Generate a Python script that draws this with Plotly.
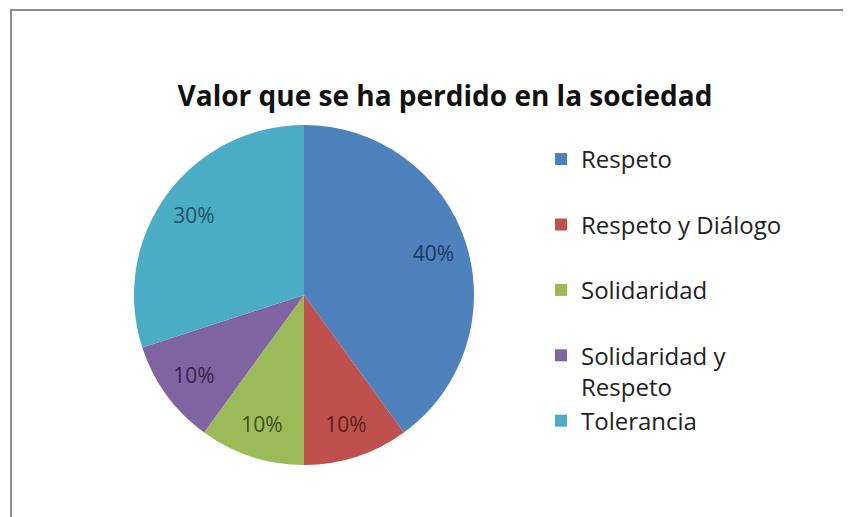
import plotly.graph_objects as go

W, H = 851, 517
OFF = 8  # page body margin offset in the browser

categories = ["Respeto", "Respeto y Diálogo", "Solidaridad", "Solidaridad y Respeto", "Tolerancia"]
values = [40, 10, 10, 10, 30]
slice_colors = ["#4F81BD", "#C0504D", "#9BBB59", "#8064A2", "#4BACC6"]
text_colors = ["#1F3A5F", "#5A1F1D", "#3C5218", "#35264A", "#1D5566"]
legend_labels = ["Respeto<br> ", "Respeto y Diálogo<br> ", "Solidaridad<br> ",
                 "Solidaridad y<br>Respeto", "Tolerancia"]
title_text = "Valor que se ha perdido en la sociedad"

FONT = "Open Sans"


def px_x(x):
    return (x - OFF) / W


def px_y(y):
    return 1 - (y - OFF) / H


dom = dict(x=[px_x(134), px_x(474)], y=[px_y(465), px_y(125)])

fig = go.Figure()
fig.add_trace(go.Pie(
    labels=legend_labels,
    values=values,
    sort=False,
    direction="clockwise",
    rotation=0,
    marker=dict(colors=slice_colors, line=dict(width=0)),
    textinfo="none",
    domain=dom,
    hoverinfo="label+percent",
))
# transparent ring used only to place the percentage labels near the rim
fig.add_trace(go.Pie(
    labels=legend_labels,
    values=values,
    sort=False,
    direction="clockwise",
    rotation=0,
    hole=0.6,
    marker=dict(colors=["rgba(0,0,0,0)"] * len(values), line=dict(width=0)),
    texttemplate="%{percent:.0%}",
    textposition="inside",
    insidetextorientation="horizontal",
    textfont=dict(family=FONT, size=21, color=text_colors),
    domain=dom,
    showlegend=False,
    hoverinfo="skip",
))

fig.update_layout(
    width=W, height=H,
    margin=dict(l=0, r=0, t=0, b=0),
    paper_bgcolor="white",
    plot_bgcolor="white",
    font=dict(family=FONT, color="#222222"),
    title=dict(text="<b>" + title_text + "</b>", x=px_x(445), xanchor="center",
               y=px_y(96), yanchor="middle", font=dict(family=FONT, size=28, color="#111111")),
    showlegend=True,
    legend=dict(x=px_x(541), xanchor="left", y=px_y(137), yanchor="top",
                valign="top", font=dict(family=FONT, size=24, color="#222222"),
                bgcolor="rgba(0,0,0,0)", traceorder="normal"),
    uniformtext=dict(minsize=21, mode="show"),
    shapes=[dict(type="rect", xref="paper", yref="paper",
                 x0=px_x(11), x1=1.02, y0=-0.02, y1=px_y(10),
                 line=dict(color="#8A8A8A", width=2), fillcolor="rgba(0,0,0,0)", layer="below")],
)

fig.write_html("out.html")
